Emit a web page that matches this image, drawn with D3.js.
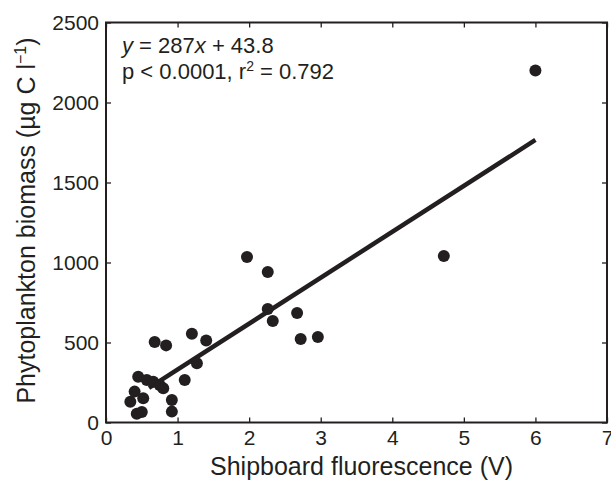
<!DOCTYPE html>
<html>
<head>
<meta charset="utf-8">
<script src="https://cdn.jsdelivr.net/npm/d3@7"></script>
<style>
  body { margin: 0; background: #fff; }
  text { font-family: "Liberation Sans", Arial, Helvetica, sans-serif; fill: #231f20; }
</style>
</head>
<body>
<script>
    // Data
    const fluorescence = [6.0, 4.72, 1.97, 2.26, 2.26, 2.33, 2.67, 2.72, 2.96, 1.20, 1.40, 1.27, 1.10,
      0.68, 0.84, 0.45, 0.57, 0.66, 0.75, 0.80, 0.40, 0.34, 0.52, 0.92, 0.92, 0.43, 0.50];
    const biomass = [2200, 1040, 1034, 940, 709, 634, 684, 522, 534, 555, 512, 370, 266,
      503, 482, 286, 266, 255, 234, 214, 193, 130, 151, 141, 68, 55, 66];
    const xTicks = [0, 1, 2, 3, 4, 5, 6, 7];
    const yTicks = [0, 500, 1000, 1500, 2000, 2500];
    const slope = 287, intercept = 43.8;
    const fitRange = [0.6, 6.0];

    const width = 611;
    const height = 481;
    const margin = { top: 22.5, right: 4, bottom: 58.5, left: 106 };
    const ink = "#231f20";

    const svg = d3.select("body")
      .append("svg")
      .attr("width", width)
      .attr("height", height);

    const x = d3.scaleLinear().domain([0, 7]).range([margin.left, width - margin.right]);
    const y = d3.scaleLinear().domain([0, 2500]).range([height - margin.bottom, margin.top]);

    // axes, ticks pointing inward
    const axBottom = svg.append("g")
      .attr("transform", `translate(0,${y(0)})`)
      .call(d3.axisBottom(x).tickValues(xTicks).tickFormat(d3.format("d"))
        .tickSizeInner(-5).tickSizeOuter(0).tickPadding(6));
    const axLeft = svg.append("g")
      .attr("transform", `translate(${x(0)},0)`)
      .call(d3.axisLeft(y).tickValues(yTicks).tickFormat(d3.format("d"))
        .tickSizeInner(-5).tickSizeOuter(0).tickPadding(7));
    const axTop = svg.append("g")
      .attr("transform", `translate(0,${y(2500)})`)
      .call(d3.axisTop(x).tickValues(xTicks).tickSizeInner(-5).tickSizeOuter(0).tickFormat(""));
    const axRight = svg.append("g")
      .attr("transform", `translate(${x(7)},0)`)
      .call(d3.axisRight(y).tickValues(yTicks).tickSizeInner(-5).tickSizeOuter(0).tickFormat(""));

    [axBottom, axLeft, axTop, axRight].forEach(g => {
      g.select(".domain").remove();
      g.selectAll(".tick line").attr("stroke", ink).attr("stroke-width", 1.3);
      g.selectAll(".tick text").style("font-size", "21px").attr("fill", ink);
    });
    axBottom.selectAll(".tick text").attr("dy", "0.8em");

    // frame
    svg.append("rect")
      .attr("x", x(0))
      .attr("y", y(2500))
      .attr("width", x(7) - x(0))
      .attr("height", y(0) - y(2500))
      .attr("fill", "none")
      .attr("stroke", ink)
      .attr("stroke-width", 2);

    // regression line
    svg.append("line")
      .attr("x1", x(fitRange[0]))
      .attr("y1", y(slope * fitRange[0] + intercept))
      .attr("x2", x(fitRange[1]))
      .attr("y2", y(slope * fitRange[1] + intercept))
      .attr("stroke", ink)
      .attr("stroke-width", 4.5);

    // points
    svg.selectAll("circle.pt")
      .data(fluorescence.map((v, i) => [v, biomass[i]]))
      .enter()
      .append("circle")
      .attr("class", "pt")
      .attr("cx", d => x(d[0]))
      .attr("cy", d => y(d[1]))
      .attr("r", 6)
      .attr("fill", ink);

    // equation
    const eq = svg.append("text")
      .attr("x", 122)
      .attr("y", 53)
      .style("font-size", "22px");
    eq.append("tspan").attr("font-style", "italic").text("y");
    eq.append("tspan").text(" = 287");
    eq.append("tspan").attr("font-style", "italic").text("x");
    eq.append("tspan").text(" + 43.8");

    const stats = svg.append("text")
      .attr("x", 122)
      .attr("y", 79)
      .style("font-size", "22px");
    stats.append("tspan").text("p < 0.0001, r");
    stats.append("tspan").attr("dy", -8).style("font-size", "14px").text("2");
    stats.append("tspan").attr("dy", 8).text(" = 0.792");

    // axis titles
    svg.append("text")
      .attr("x", (x(0) + x(7)) / 2 + 5)
      .attr("y", 475)
      .attr("text-anchor", "middle")
      .style("font-size", "25px")
      .text("Shipboard fluorescence (V)");

    const yTitle = svg.append("text")
      .attr("transform", `translate(35,${(y(0) + y(2500)) / 2 - 2}) rotate(-90)`)
      .attr("text-anchor", "middle")
      .style("font-size", "25px");
    yTitle.append("tspan").text("Phytoplankton biomass (µg C l");
    yTitle.append("tspan").attr("dy", -9).style("font-size", "16px").text("−1");
    yTitle.append("tspan").attr("dy", 9).text(")");
  </script>
</body>
</html>
